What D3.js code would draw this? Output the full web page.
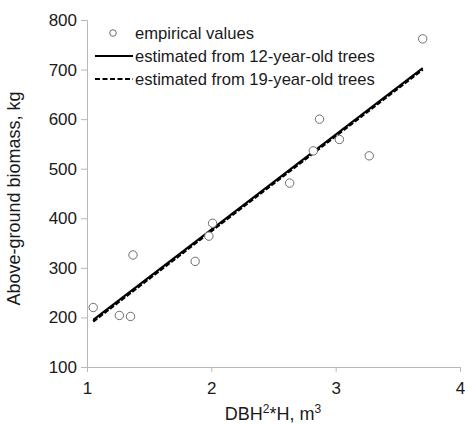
<!DOCTYPE html>
<html>
<head>
<meta charset="utf-8">
<script src="https://cdn.jsdelivr.net/npm/d3@7"></script>
<style>
  body { margin: 0; background: #fff; }
  text { font-family: "Liberation Sans", Arial, sans-serif; fill: #1a1a1a; }
</style>
</head>
<body>
<div id="chart-area"></div>
<script>
// data
var dbhH = [1.05, 1.26, 1.35, 1.37, 1.87, 1.98, 2.01, 2.63, 2.82, 2.87, 3.03, 3.27, 3.70];
var biomass = [220, 204, 202, 326, 313, 364, 390, 471, 536, 600, 559, 526, 762];
var fitX = [1.05, 3.70];
var fit12 = [195, 703];
var fit19 = [192, 700];
var xTicks = [1, 2, 3, 4];
var yTicks = [100, 200, 300, 400, 500, 600, 700, 800];

var margins = { left: 87, right: 5, top: 20, bottom: 57 };
var width = 465 - margins.left - margins.right;
var height = 424 - margins.top - margins.bottom;

var svg = d3.select("#chart-area")
    .append("svg")
    .attr("width", 465)
    .attr("height", 424);

var g = svg.append("g")
    .attr("transform", "translate(" + margins.left + ", " + margins.top + ")");

var x = d3.scaleLinear().domain([1, 4]).range([0, 373]);
var y = d3.scaleLinear().domain([100, 800]).range([height, 0]);

// axes
var xAxisCall = d3.axisBottom(x).tickValues(xTicks).tickSize(5).tickFormat(d3.format("d"));
var yAxisCall = d3.axisLeft(y).tickValues(yTicks).tickSize(6).tickFormat(d3.format("d"));

var xAxis = g.append("g")
    .attr("class", "x axis")
    .attr("transform", "translate(0, " + height + ")")
    .call(xAxisCall);
var yAxis = g.append("g")
    .attr("class", "y axis")
    .call(yAxisCall);

[xAxis, yAxis].forEach(function(a) {
    a.select(".domain").attr("stroke", "#b8b8b8");
    a.selectAll(".tick line").attr("stroke", "#b8b8b8");
    a.selectAll(".tick text")
        .attr("font-size", "17px")
        .attr("font-family", "Liberation Sans, Arial, sans-serif")
        .attr("fill", "#1a1a1a");
});
xAxis.selectAll(".tick text").attr("dy", "0.95em").attr("y", 11);
yAxis.selectAll(".tick text").attr("x", -10);

// axis titles
g.append("text")
    .attr("x", -height / 2 - 5)
    .attr("y", -67)
    .attr("font-size", "18px")
    .attr("text-anchor", "middle")
    .attr("transform", "rotate(-90)")
    .text("Above-ground biomass, kg");

var xt = g.append("text")
    .attr("x", 186)
    .attr("y", height + 53)
    .attr("font-size", "18px")
    .attr("text-anchor", "middle");
xt.append("tspan").text("DBH");
xt.append("tspan").attr("font-size", "12px").attr("dy", "-7").text("2");
xt.append("tspan").attr("dy", "7").text("*H, m");
xt.append("tspan").attr("font-size", "12px").attr("dy", "-7").text("3");

// fitted lines
var line = d3.line()
    .x(function(d) { return x(d[0]); })
    .y(function(d) { return y(d[1]); });

g.append("path")
    .datum(fitX.map(function(v, i) { return [v, fit19[i]]; }))
    .attr("d", line)
    .attr("fill", "none")
    .attr("stroke", "#000")
    .attr("stroke-width", 2.5)
    .attr("stroke-dasharray", "5,2");

g.append("path")
    .datum(fitX.map(function(v, i) { return [v, fit12[i]]; }))
    .attr("d", line)
    .attr("fill", "none")
    .attr("stroke", "#000")
    .attr("stroke-width", 2);

// empirical points
g.selectAll("circle.pt")
    .data(dbhH.map(function(v, i) { return [v, biomass[i]]; }))
    .enter()
    .append("circle")
    .attr("class", "pt")
    .attr("cx", function(d) { return x(d[0]); })
    .attr("cy", function(d) { return y(d[1]); })
    .attr("r", 4.2)
    .attr("fill", "#fff")
    .attr("stroke", "#6e6e6e")
    .attr("stroke-width", 1);

// legend
var legend = svg.append("g").attr("transform", "translate(95, 33)");
legend.append("circle")
    .attr("cx", 18).attr("cy", 0).attr("r", 3.3)
    .attr("fill", "#fff").attr("stroke", "#6e6e6e");
legend.append("line")
    .attr("x1", 0).attr("x2", 38).attr("y1", 23).attr("y2", 23)
    .attr("stroke", "#000").attr("stroke-width", 2);
legend.append("line")
    .attr("x1", 0).attr("x2", 38).attr("y1", 46).attr("y2", 46)
    .attr("stroke", "#000").attr("stroke-width", 2)
    .attr("stroke-dasharray", "5,2.5");
["empirical values", "estimated from 12-year-old trees", "estimated from 19-year-old trees"]
    .forEach(function(s, i) {
        legend.append("text")
            .attr("x", 40)
            .attr("y", i * 23)
            .attr("dy", "0.35em")
            .attr("font-size", "16.6px")
            .text(s);
    });
</script>
</body>
</html>
